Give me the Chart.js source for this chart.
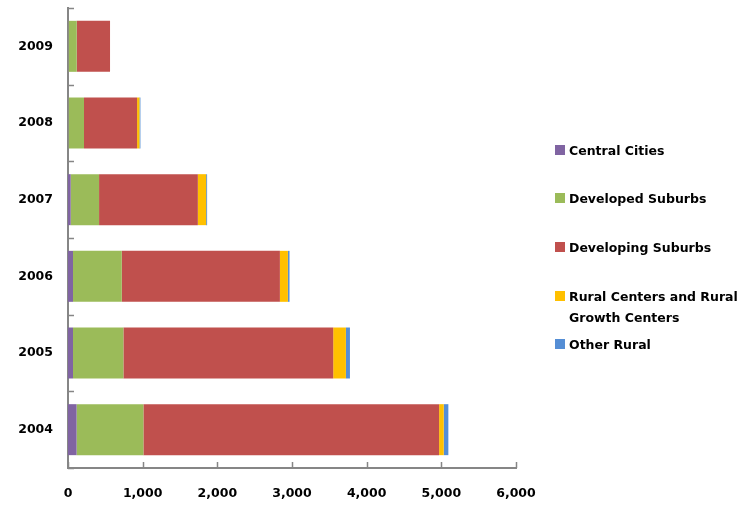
<!DOCTYPE html>
<html>
<head>
<meta charset="utf-8">
<script src="https://cdn.jsdelivr.net/npm/chart.js@4/dist/chart.umd.min.js"></script>
<style>
  body { margin: 0; background: #fff; }
  #wrap { position: relative; width: 752px; height: 505px; }
  #legend { position: absolute; left: 0; top: 0; font: bold 12.5px "DejaVu Sans", sans-serif; color: #000; }
  .item { position: absolute; left: 555px; display: flex; align-items: flex-start; width: 190px; line-height: 21px; }
  .box { width: 10px; height: 10px; margin-top: 5px; margin-right: 4px; flex: none; }
</style>
</head>
<body>
<div id="wrap">
  <canvas id="myChart" width="752" height="505"></canvas>
  <div id="legend"></div>
</div>
<script>
// years, top to bottom
const years = ["2009", "2008", "2007", "2006", "2005", "2004"];

const seriesNames = ["Central Cities", "Developed Suburbs", "Developing Suburbs",
  "Rural Centers and Rural Growth Centers", "Other Rural"];
const seriesColors = ["#8064A2", "#9BBB59", "#C0504D", "#FFC000", "#558ED5"];

const centralCities     = [5, 5, 36, 67, 67, 115];
const developedSuburbs  = [112, 209, 380, 653, 675, 895];
const developingSuburbs = [446, 711, 1323, 2118, 2810, 3960];
const ruralCenters      = [0, 32, 111, 107, 170, 62];
const otherRural        = [0, 13, 13, 22, 54, 62];

const xTickValues = [0, 1000, 2000, 3000, 4000, 5000, 6000];

const seriesData = [centralCities, developedSuburbs, developingSuburbs, ruralCenters, otherRural];

Chart.defaults.font.family = '"DejaVu Sans", sans-serif';
Chart.defaults.font.size = 12.5;
Chart.defaults.font.weight = 'bold';
Chart.defaults.color = '#000';

// small tick marks pointing into the plot, like the old office charts
const innerTicks = {
  id: 'innerTicks',
  afterDraw(chart) {
    const {ctx, chartArea, scales: {x, y}} = chart;
    ctx.save();
    ctx.strokeStyle = '#868686';
    ctx.lineWidth = 1.5;
    ctx.beginPath();
    xTickValues.forEach(v => {
      const px = Math.round(x.getPixelForValue(v)) + 0.5;
      ctx.moveTo(px, chartArea.bottom);
      ctx.lineTo(px, chartArea.bottom - 6);
    });
    const step = y.getPixelForValue(1) - y.getPixelForValue(0);
    for (let i = 0; i <= years.length; i++) {
      const py = Math.round(y.getPixelForValue(0) - step / 2 + i * step) + 0.5;
      ctx.moveTo(chartArea.left, py);
      ctx.lineTo(chartArea.left + 6, py);
    }
    ctx.stroke();
    ctx.restore();
  }
};

const ctx = document.getElementById('myChart');
new Chart(ctx, {
  type: 'bar',
  data: {
    labels: years,
    datasets: seriesNames.map((name, i) => ({
      label: name,
      data: seriesData[i],
      backgroundColor: seriesColors[i],
      borderWidth: 0,
      categoryPercentage: 1,
      barPercentage: 0.665
    }))
  },
  options: {
    indexAxis: 'y',
    responsive: false,
    animation: false,
    layout: { padding: { top: 8, right: 236, left: 0, bottom: 0 } },
    plugins: { legend: { display: false }, tooltip: { enabled: false } },
    scales: {
      x: {
        stacked: true,
        min: 0,
        max: 6000,
        afterBuildTicks: (scale) => { scale.ticks = xTickValues.map(v => ({ value: v })); },
        afterFit: (scale) => { scale.height = 37; },
        grid: { display: false, drawTicks: false },
        border: { color: '#868686', width: 2 },
        ticks: {
          padding: 18,
          maxRotation: 0,
          callback: (v) => Number(v).toLocaleString('en-US')
        }
      },
      y: {
        stacked: true,
        afterFit: (scale) => { scale.width = 68; },
        // invisible outer ticks just push the year labels away from the axis
        grid: { display: true, drawOnChartArea: false, drawTicks: true, tickLength: 15, color: 'rgba(0,0,0,0)' },
        border: { color: '#868686', width: 2 },
        ticks: { padding: 0 }
      }
    }
  },
  plugins: [innerTicks]
});

// legend on the right, text wraps like the original
const legendTops = [140, 188, 237, 286, 334];
const legend = document.getElementById('legend');
seriesNames.forEach((name, i) => {
  const item = document.createElement('div');
  item.className = 'item';
  item.style.top = legendTops[i] + 'px';
  const box = document.createElement('span');
  box.className = 'box';
  box.style.background = seriesColors[i];
  const text = document.createElement('span');
  text.textContent = name;
  item.appendChild(box);
  item.appendChild(text);
  legend.appendChild(item);
});
</script>
</body>
</html>
